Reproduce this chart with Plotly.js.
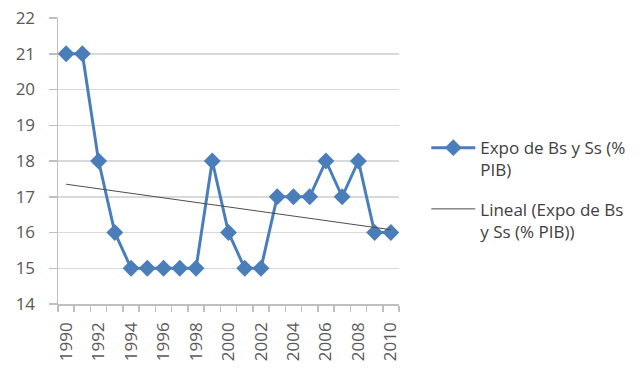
<!DOCTYPE html>
<html>
<head>
<meta charset="utf-8">
<script src="https://cdn.plot.ly/plotly-3.0.1.min.js"></script>
<style>
  html, body { margin: 0; padding: 0; background: #fff; }
  #chart { width: 643px; height: 373px; }
</style>
</head>
<body>
<div id="chart"></div>
<script>
// Exportaciones de bienes y servicios (% del PIB), 1990-2010
const years = [1990, 1991, 1992, 1993, 1994, 1995, 1996, 1997, 1998, 1999, 2000,
               2001, 2002, 2003, 2004, 2005, 2006, 2007, 2008, 2009, 2010];
const expo  = [21, 21, 18, 16, 15, 15, 15, 15, 15, 18, 16,
               15, 15, 17, 17, 17, 18, 17, 18, 16, 16];
const yTicks = [14, 15, 16, 17, 18, 19, 20, 21, 22];
const xTicks = [1990, 1992, 1994, 1996, 1998, 2000, 2002, 2004, 2006, 2008, 2010];

const seriesName = 'Expo de Bs y Ss (%<br>PIB)';
const trendName  = 'Lineal (Expo de Bs<br>y Ss (% PIB))';

// Least-squares linear trend of the series
function linearFit(xs, ys) {
  const n = xs.length;
  const mx = xs.reduce((a, b) => a + b, 0) / n;
  const my = ys.reduce((a, b) => a + b, 0) / n;
  let sxy = 0, sxx = 0;
  for (let i = 0; i < n; i++) {
    sxy += (xs[i] - mx) * (ys[i] - my);
    sxx += (xs[i] - mx) * (xs[i] - mx);
  }
  const slope = sxy / sxx;
  return xs.map(x => my + slope * (x - mx));
}
const trend = linearFit(years, expo);

const tickFont = { family: 'Open Sans, Liberation Sans, sans-serif', size: 17, color: '#595959' };

const traces = [
  {
    x: years, y: expo, name: seriesName, legendgroup: 'serie',
    type: 'scatter', mode: 'lines+markers',
    line: { color: '#4a7ebb', width: 3 },
    marker: { symbol: 'diamond', size: 13, color: '#4a7ebb' }
  },
  {
    x: [years[0], years[years.length - 1]],
    y: [trend[0], trend[trend.length - 1]],
    name: trendName, legendgroup: 'tendencia',
    type: 'scatter', mode: 'lines',
    line: { color: '#4d4d4d', width: 1 }
  }
];

const layout = {
  width: 643, height: 373,
  margin: { l: 58, r: 241, t: 18, b: 69 },
  paper_bgcolor: '#ffffff', plot_bgcolor: '#ffffff',
  showlegend: true,
  legend: {
    x: 1.08, xanchor: 'left', y: 0.608, yanchor: 'top',
    valign: 'top', itemwidth: 44, tracegroupgap: 14,
    font: { family: 'Open Sans, Liberation Sans, sans-serif', size: 17, color: '#404040' },
    bgcolor: 'rgba(0,0,0,0)'
  },
  xaxis: {
    range: [1989.5, 2010.5], tickvals: xTicks, ticktext: xTicks.map(String),
    tickangle: -90, ticks: '', showgrid: false, zeroline: false,
    showline: true, linecolor: '#bfbfbf', linewidth: 1.5,
    tickfont: tickFont, ticklabelstandoff: 10,
    minor: { tick0: 1989.5, dtick: 1, ticks: 'outside', ticklen: 6, tickcolor: '#bfbfbf', tickwidth: 1.5, showgrid: false }
  },
  yaxis: {
    range: [14, 22], tickvals: yTicks, ticks: 'outside', ticklen: 8,
    tickcolor: '#bfbfbf', tickwidth: 1.5,
    showgrid: true, gridcolor: '#d9d9d9', gridwidth: 1.5, zeroline: false,
    showline: true, linecolor: '#bfbfbf', linewidth: 1.5,
    tickfont: tickFont, ticklabelstandoff: 10
  }
};

Plotly.newPlot('chart', traces, layout, { staticPlot: true, displayModeBar: false });
</script>
</body>
</html>
